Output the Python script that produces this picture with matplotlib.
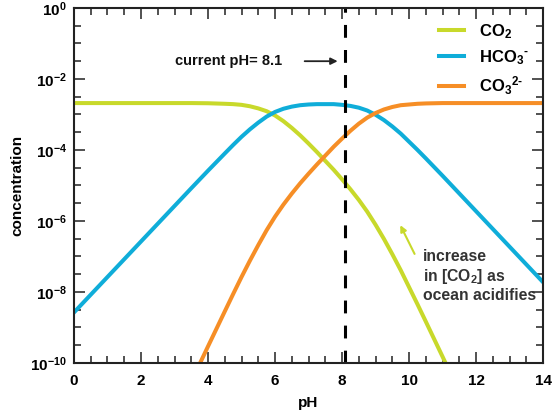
import matplotlib
matplotlib.use('Agg')
import matplotlib.pyplot as plt
import numpy as np
from matplotlib.ticker import FixedLocator, FuncFormatter

plt.rcParams['font.family'] = ['Liberation Sans', 'DejaVu Sans']
plt.rcParams['font.weight'] = 'bold'
plt.rcParams['mathtext.fontset'] = 'custom'
plt.rcParams['mathtext.rm'] = 'Liberation Sans:bold'
plt.rcParams['mathtext.bf'] = 'Liberation Sans:bold'
plt.rcParams['mathtext.it'] = 'Liberation Sans:bold'
plt.rcParams['mathtext.default'] = 'bf'

# values (log10 of concentration)
ph = [0, 0.5, 1, 1.5, 2, 2.5, 3, 3.5, 4, 4.5, 4.75, 5, 5.25, 5.5, 5.75, 6, 6.25,
      6.5, 6.75, 7, 7.25, 7.5, 7.75, 8, 8.25, 8.5, 8.75, 9, 9.25, 9.5, 9.75, 10,
      10.25, 10.5, 11, 11.5, 12, 12.5, 13, 13.5, 14]
log_co2 = [-2.68, -2.68, -2.68, -2.68, -2.68, -2.68, -2.68, -2.68, -2.685, -2.70,
           -2.71, -2.73, -2.77, -2.83, -2.91, -3.03, -3.19, -3.38, -3.59, -3.82,
           -4.06, -4.31, -4.56, -4.83, -5.11, -5.41, -5.74, -6.11, -6.51, -6.94,
           -7.39, -7.87, -8.35, -8.84, -9.83, -10.83, -11.83, -12.83, -13.83,
           -14.83, -15.83]
log_hco3 = [-8.58, -8.08, -7.58, -7.08, -6.58, -6.08, -5.58, -5.08, -4.585, -4.10,
            -3.86, -3.63, -3.42, -3.23, -3.06, -2.93, -2.84, -2.78, -2.74, -2.72,
            -2.71, -2.71, -2.71, -2.73, -2.76, -2.81, -2.89, -3.01, -3.16, -3.34,
            -3.54, -3.77, -4.00, -4.24, -4.73, -5.23, -5.73, -6.23, -6.73, -7.23,
            -7.73]
log_co3 = [-17.53, -16.53, -15.53, -14.53, -13.53, -12.53, -11.53, -10.53, -9.535,
           -8.55, -8.06, -7.58, -7.12, -6.68, -6.26, -5.88, -5.54, -5.23, -4.94,
           -4.67, -4.41, -4.16, -3.91, -3.68, -3.46, -3.26, -3.09, -2.96, -2.86,
           -2.79, -2.74, -2.72, -2.70, -2.69, -2.68, -2.68, -2.68, -2.68, -2.68,
           -2.68, -2.68]

current_ph = 8.1
names = ['CO$_2$', r'HCO$_3$$^{\text{-}}$', r'CO$_3$$^{2\text{-}}$']
colors = ['#c8d92b', '#0fadd9', '#f68e26']

fig = plt.figure(figsize=(5.52, 4.19), dpi=100)
ax = fig.add_axes([0.134, 0.134, 0.850, 0.847])

ph = np.array(ph)
for vals, name, c in zip([log_co2, log_hco3, log_co3], names, colors):
    ax.plot(ph, 10.0 ** np.array(vals), color=c, lw=2.9, label=name,
            solid_joinstyle='round')

ax.axvline(current_ph, color='black', lw=2.2, dashes=(4.2, 4.0))

ax.set_yscale('log')
ax.set_xlim(0, 14)
ax.set_ylim(1e-10, 1)

ax.xaxis.set_major_locator(FixedLocator(np.arange(0, 15, 2)))
ax.xaxis.set_minor_locator(FixedLocator(np.arange(0, 14.1, 0.5)))
ax.yaxis.set_major_locator(FixedLocator([10.0 ** k for k in range(-10, 1, 2)]))
ax.yaxis.set_minor_locator(FixedLocator([10.0 ** (k / 2) for k in range(-20, 1)]))
ax.yaxis.set_major_formatter(FuncFormatter(lambda v, p: r'$10^{%d}$' % round(np.log10(v))))
ax.yaxis.set_minor_formatter(FuncFormatter(lambda v, p: ''))

ax.tick_params(which='both', direction='in', top=True, right=True, color='#333333',
               width=1.2, labelsize=11)
ax.tick_params(which='major', length=8)
ax.tick_params(which='minor', length=5)
ax.tick_params(axis='x', pad=8)
ax.tick_params(axis='y', pad=5)
for s in ax.spines.values():
    s.set_linewidth(1.5)
    s.set_color('#222222')

ax.set_xlabel('pH', fontsize=11, fontweight='bold', labelpad=6)
ax.set_ylabel('concentration', fontsize=11, fontweight='bold', labelpad=4)

leg = ax.legend(loc='upper right', frameon=False, fontsize=12, handlelength=1.5,
                handletextpad=0.9, labelspacing=0.45, borderaxespad=0.45)

ax.annotate('', xy=(7.95, 10 ** -1.5), xytext=(6.8, 10 ** -1.5),
            arrowprops=dict(arrowstyle='-|>', color='#222222', lw=1.3, mutation_scale=10))
ax.text(3.0, 10 ** -1.5, 'current pH= 8.1', fontsize=10.5, fontweight='bold',
        va='center', ha='left', color='#111111')

ax.annotate('', xy=(9.7, 10 ** -6.05), xytext=(10.2, 10 ** -7.0),
            arrowprops=dict(arrowstyle='-|>', color=colors[0], lw=1.5, mutation_scale=9))
ax.text(10.4, 10 ** -7.55, 'increase\nin [CO$_2$] as\nocean acidifies', fontsize=11.3,
        fontweight='bold', va='center', ha='left', color='#333333', linespacing=1.2)

fig.savefig('out.png', dpi=100)
